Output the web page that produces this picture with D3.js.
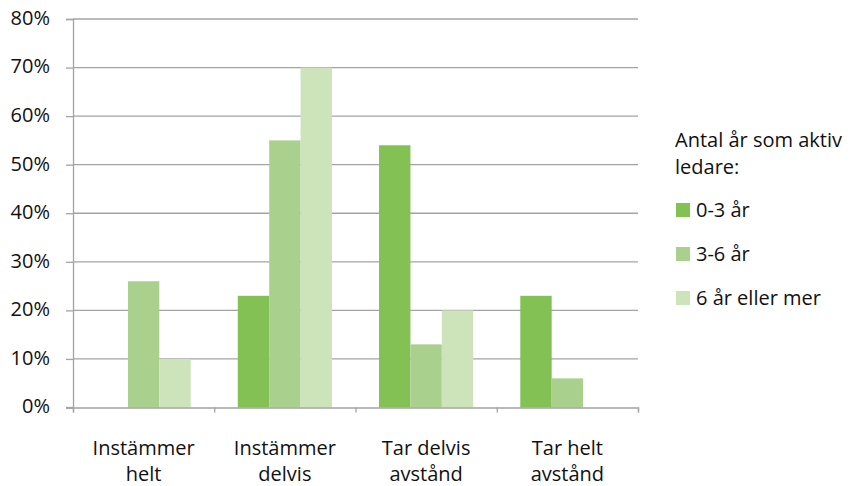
<!DOCTYPE html>
<html>
<head>
<meta charset="utf-8">
<script src="https://cdn.jsdelivr.net/npm/d3@7"></script>
<style>
  html, body { margin: 0; padding: 0; background: #fff; }
  svg { display: block; font-family: "Open Sans", sans-serif; }
</style>
</head>
<body>
<svg id="chart" width="851" height="486"></svg>
<script>
const categories = [["Instämmer", "helt"], ["Instämmer", "delvis"], ["Tar delvis", "avstånd"], ["Tar helt", "avstånd"]];
const seriesNames = ["0-3 år", "3-6 år", "6 år eller mer"];
const series0_3 = [0, 23, 54, 23];
const series3_6 = [26, 55, 13, 6];
const series6plus = [10, 70, 20, 0];
const yTicks = [0, 10, 20, 30, 40, 50, 60, 70, 80];
const legendTitle = ["Antal år som aktiv", "ledare:"];
const colors = ["#83c155", "#aad08e", "#cde3b9"];

const seriesValues = [series0_3, series3_6, series6plus];
const svg = d3.select("#chart");

const plot = { left: 73, right: 638, top: 19, bottom: 407.5 };

const x = d3.scaleBand().domain(d3.range(categories.length)).range([plot.left, plot.right]).padding(0);
const xs = d3.scaleBand().domain(d3.range(seriesNames.length)).range([0, x.bandwidth()]).paddingInner(0).paddingOuter(0.75);
const y = d3.scaleLinear().domain([0, 80]).range([plot.bottom, plot.top]);

const gridColor = "#a3a3a3";

// gridlines
svg.append("g").selectAll("line").data(yTicks.filter(d => d > 0)).join("line")
  .attr("x1", plot.left).attr("x2", plot.right)
  .attr("y1", d => y(d)).attr("y2", d => y(d))
  .attr("stroke", gridColor).attr("stroke-width", 1.3);

// bars
const groups = svg.append("g").selectAll("g").data(categories).join("g")
  .attr("transform", (d, i) => `translate(${x(i)},0)`);
groups.selectAll("rect").data((d, i) => seriesValues.map((s, j) => ({ j, v: s[i] }))).join("rect")
  .attr("x", d => xs(d.j)).attr("width", xs.bandwidth())
  .attr("y", d => y(d.v)).attr("height", d => y(0) - y(d.v))
  .attr("fill", d => colors[d.j]);

// y axis
const yAxis = d3.axisLeft(y).tickValues(yTicks).tickSize(7).tickFormat(d => d + "%");
const gy = svg.append("g").attr("transform", `translate(${plot.left},0)`).call(yAxis);
gy.select(".domain").attr("stroke", gridColor).attr("stroke-width", 1.3);
gy.selectAll(".tick line").attr("stroke", gridColor).attr("stroke-width", 1.3);
gy.selectAll(".tick text").attr("font-size", 20).attr("font-family", "Open Sans, sans-serif")
  .attr("fill", "#111").attr("x", -23).attr("dy", "0.62em").attr("y", -7);

// x axis
const xAxis = d3.axisBottom(d3.scaleLinear().domain([0, categories.length]).range([plot.left, plot.right]))
  .tickValues(d3.range(categories.length + 1)).tickSize(5).tickFormat("");
const gx = svg.append("g").attr("transform", `translate(0,${plot.bottom})`).call(xAxis);
gx.select(".domain").attr("stroke", gridColor).attr("stroke-width", 1.3);
gx.selectAll(".tick line").attr("stroke", gridColor).attr("stroke-width", 1.3);
svg.append("line").attr("x1", plot.left - 7).attr("x2", plot.left)
  .attr("y1", plot.bottom).attr("y2", plot.bottom).attr("stroke", gridColor).attr("stroke-width", 1.3);

// x labels
const xl = svg.append("g").selectAll("text").data(categories).join("text")
  .attr("x", (d, i) => x(i) + x.bandwidth() / 2)
  .attr("y", 455)
  .attr("text-anchor", "middle").attr("font-size", 20).attr("fill", "#111");
xl.selectAll("tspan").data(d => d).join("tspan")
  .attr("x", function () { return d3.select(this.parentNode).attr("x"); })
  .attr("dy", (d, i) => i === 0 ? 0 : 26)
  .text(d => d);

// legend
const leg = svg.append("g");
leg.selectAll("text.title").data(legendTitle).join("text").attr("class", "title")
  .attr("x", 675).attr("y", (d, i) => 147 + i * 27)
  .attr("font-size", 20).attr("fill", "#111").text(d => d);
const items = leg.selectAll("g.item").data(seriesNames).join("g").attr("class", "item")
  .attr("transform", (d, i) => `translate(676,${203 + i * 44})`);
items.append("rect").attr("width", 14).attr("height", 14).attr("fill", (d, i) => colors[i]);
items.append("text").attr("x", 20).attr("y", 14).attr("font-size", 20).attr("fill", "#111").text(d => d);
</script>
</body>
</html>
